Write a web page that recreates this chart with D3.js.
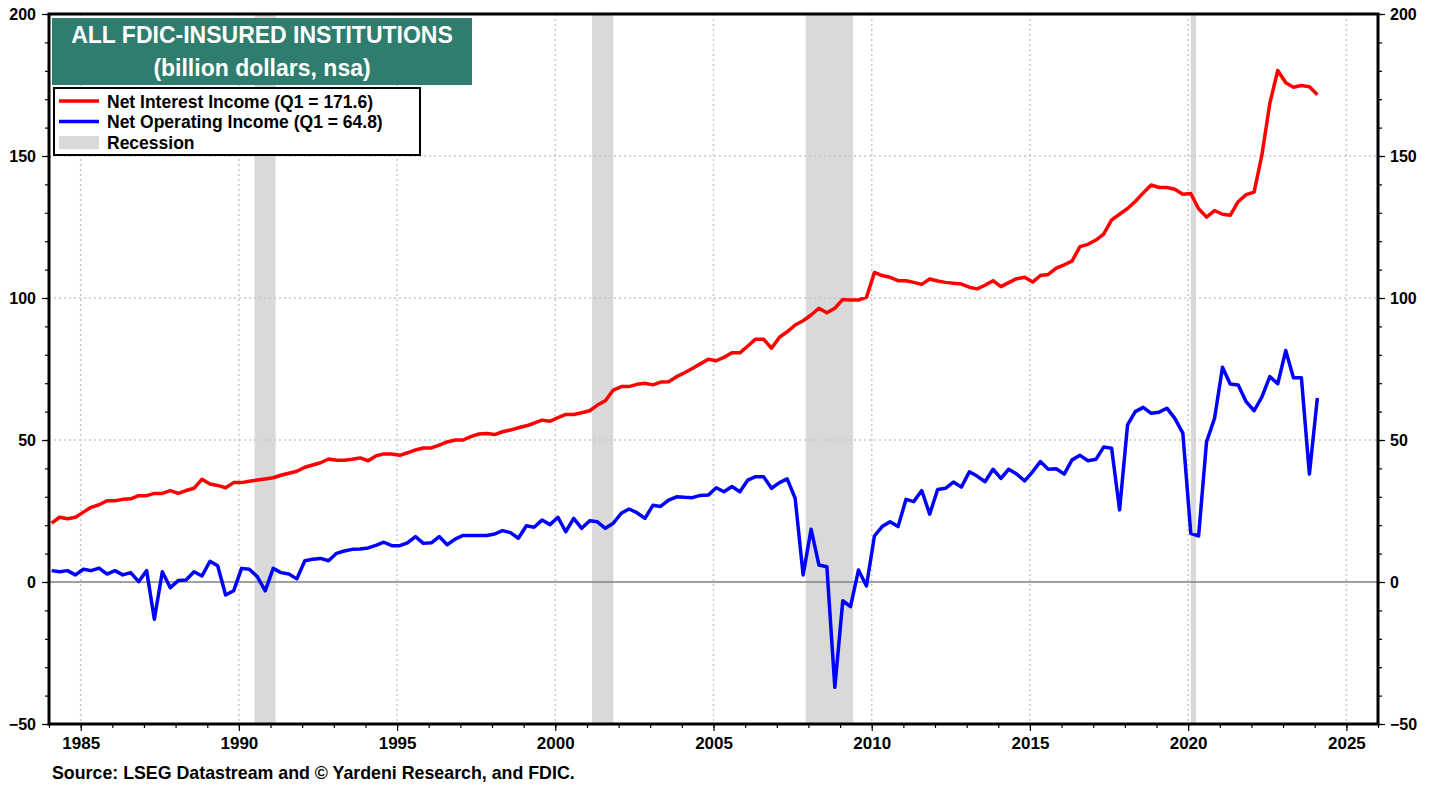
<!DOCTYPE html>
<html lang="en">
<head>
<meta charset="UTF-8">
<title>All FDIC-Insured Institutions</title>
<script src="https://cdnjs.cloudflare.com/ajax/libs/d3/7.8.5/d3.min.js"></script>
<style>
  body { margin: 0; background: #fff; }
  svg { display: block; font-family: "Liberation Sans", Arial, sans-serif; font-weight: bold; }
  .axis path { display: none; }
  .axis line { stroke: #000; stroke-width: 1.2; }
  .axis text { font-size: 16px; font-weight: bold; fill: #000; }
  .xaxis text { font-size: 17px; }
</style>
</head>
<body>
<svg id="chart" width="1438" height="790"></svg>
<script>
// quarterly data, first value = 1984 Q1, last = 2024 Q1 (billion dollars)
const startYear = 1984;
const netInterestIncome = [
  20.7, 22.8, 22.3, 22.8, 24.6, 26.3, 27.2, 28.6, 28.6, 29.1, 29.3, 30.4, 30.4, 31.2, 31.2, 32.2,
  31.2, 32.2, 33.0, 36.2, 34.5, 34.0, 33.2, 35.0, 35.0, 35.5, 35.9, 36.3, 36.7, 37.6, 38.3, 39.0,
  40.4, 41.2, 42.0, 43.3, 42.9, 42.9, 43.2, 43.7, 42.7, 44.4, 45.1, 45.1, 44.6, 45.5, 46.5, 47.2,
  47.2, 48.2, 49.3, 50.0, 50.0, 51.2, 52.1, 52.3, 51.9, 52.9, 53.5, 54.3, 55.0, 55.9, 57.0, 56.6,
  57.9, 59.0, 59.0, 59.6, 60.3, 62.3, 63.8, 67.6, 68.8, 68.8, 69.6, 70.0, 69.4, 70.4, 70.5, 72.3,
  73.7, 75.2, 76.8, 78.4, 77.9, 79.1, 80.7, 80.7, 83.1, 85.5, 85.5, 82.3, 86.2, 88.1, 90.5, 92.0,
  94.0, 96.4, 94.8, 96.4, 99.5, 99.3, 99.3, 100.2, 109.0, 107.9, 107.3, 106.1, 106.1, 105.5, 104.8, 106.7,
  106.0, 105.5, 105.2, 104.9, 103.8, 103.2, 104.5, 106.1, 104.0, 105.4, 106.8, 107.3, 105.6, 107.9, 108.3, 110.5,
  111.7, 113.0, 118.1, 118.9, 120.4, 122.5, 127.5, 129.5, 131.5, 134.0, 137.0, 139.8, 138.9, 138.9, 138.3, 136.5,
  136.8, 131.4, 128.5, 130.8, 129.5, 129.1, 133.9, 136.4, 137.3, 150.2, 168.5, 180.1, 175.8, 174.2, 174.8, 174.4,
  171.6
];
const netOperatingIncome = [
  4.0, 3.6, 4.0, 2.5, 4.5, 4.0, 4.9, 2.8, 4.0, 2.5, 3.3, 0.1, 4.0, -13.1, 3.6, -2.0,
  0.5, 0.7, 3.6, 2.1, 7.3, 5.7, -4.6, -3.1, 4.8, 4.5, 1.9, -3.1, 4.8, 3.3, 2.8, 1.1,
  7.5, 8.0, 8.3, 7.5, 10.1, 10.9, 11.5, 11.6, 12.0, 12.9, 14.0, 12.8, 12.8, 13.8, 16.0, 13.6,
  13.8, 16.0, 13.1, 15.1, 16.4, 16.4, 16.4, 16.4, 16.9, 18.1, 17.4, 15.4, 19.8, 19.3, 21.8, 20.2,
  22.8, 17.7, 22.4, 18.9, 21.6, 21.2, 18.9, 20.7, 24.2, 25.7, 24.4, 22.4, 27.0, 26.6, 28.8, 30.0,
  29.8, 29.7, 30.5, 30.6, 33.2, 31.8, 33.6, 31.8, 35.9, 37.1, 37.1, 33.0, 35.0, 36.3, 29.5, 2.5,
  18.6, 6.0, 5.4, -37.1, -6.6, -8.7, 4.2, -1.4, 16.2, 19.5, 21.2, 19.5, 29.1, 28.3, 32.2, 23.9,
  32.6, 33.0, 35.2, 33.4, 38.8, 37.3, 35.3, 39.7, 36.5, 39.7, 38.0, 35.6, 38.8, 42.4, 39.7, 39.9,
  38.0, 43.0, 44.6, 42.7, 43.2, 47.5, 47.1, 25.4, 55.3, 60.0, 61.5, 59.4, 59.8, 61.2, 57.6, 52.4,
  17.1, 16.2, 49.4, 57.6, 75.6, 69.7, 69.4, 63.5, 60.3, 65.1, 72.3, 69.8, 81.5, 71.9, 71.9, 38.0,
  64.8
];
const recessions = [
  ["1990-07-01", "1991-03-01"],
  ["2001-03-01", "2001-11-01"],
  ["2007-12-01", "2009-06-01"],
  ["2020-02-01", "2020-04-01"]
];
const yTicks = [-50, 0, 50, 100, 150, 200];
const xTickYears = [1985, 1990, 1995, 2000, 2005, 2010, 2015, 2020, 2025];
const titleLines = ["ALL FDIC-INSURED INSTITUTIONS", "(billion dollars, nsa)"];
const legendItems = [
  { label: "Net Interest Income (Q1 = 171.6)", type: "line", color: "#ff0000" },
  { label: "Net Operating Income (Q1 = 64.8)", type: "line", color: "#0000ff" },
  { label: "Recession", type: "box", color: "#d9d9d9" }
];
const sourceText = "Source: LSEG Datastream and \u00A9 Yardeni Research, and FDIC.";

const svg = d3.select("#chart");
const plot = { left: 49, right: 1378, top: 14, bottom: 724 };

const quarterDate = (i) => new Date(startYear + Math.floor(i / 4), (i % 4) * 3 + 1, 1);

const x = d3.scaleTime()
  .domain([new Date(1984, 0, 1), new Date(2026, 0, 1)])
  .range([plot.left, plot.right]);
const y = d3.scaleLinear().domain([-50, 200]).range([plot.bottom, plot.top]);

// recession bars
svg.append("g").selectAll("rect")
  .data(recessions)
  .enter().append("rect")
  .attr("x", (d) => x(new Date(d[0])))
  .attr("width", (d) => x(new Date(d[1])) - x(new Date(d[0])))
  .attr("y", plot.top)
  .attr("height", plot.bottom - plot.top)
  .attr("fill", "#d9d9d9");

// grid
const grid = svg.append("g").attr("stroke", "#c8c8c8").attr("stroke-width", 1.5).attr("stroke-dasharray", "2,3");
grid.selectAll(".vg").data(xTickYears).enter().append("line")
  .attr("x1", (d) => x(new Date(d, 0, 1))).attr("x2", (d) => x(new Date(d, 0, 1)))
  .attr("y1", plot.top).attr("y2", plot.bottom);
grid.selectAll(".hg").data(yTicks.filter((d) => d !== 0 && d > -50 && d < 200)).enter().append("line")
  .attr("x1", plot.left).attr("x2", plot.right)
  .attr("y1", (d) => y(d)).attr("y2", (d) => y(d));

// zero line
svg.append("line")
  .attr("x1", plot.left).attr("x2", plot.right)
  .attr("y1", y(0)).attr("y2", y(0))
  .attr("stroke", "#808080").attr("stroke-width", 1.5);

// series
const line = d3.line().x((d, i) => x(quarterDate(i))).y((d) => y(d));
svg.append("path").datum(netInterestIncome)
  .attr("d", line).attr("fill", "none")
  .attr("stroke", "#ff0000").attr("stroke-width", 3.5).attr("stroke-linejoin", "round");
svg.append("path").datum(netOperatingIncome)
  .attr("d", line).attr("fill", "none")
  .attr("stroke", "#0000ff").attr("stroke-width", 3.5).attr("stroke-linejoin", "round");

// axes: major + minor ticks
const minorY = d3.range(-50, 201, 10);
svg.append("g").attr("class", "axis").attr("transform", `translate(${plot.left},0)`)
  .call(d3.axisLeft(y).tickValues(minorY).tickSize(4).tickFormat(""));
svg.append("g").attr("class", "axis").attr("transform", `translate(${plot.left},0)`)
  .call(d3.axisLeft(y).tickValues(yTicks).tickSize(7).tickPadding(6));
svg.append("g").attr("class", "axis").attr("transform", `translate(${plot.right},0)`)
  .call(d3.axisRight(y).tickValues(minorY).tickSize(4).tickFormat(""));
svg.append("g").attr("class", "axis").attr("transform", `translate(${plot.right},0)`)
  .call(d3.axisRight(y).tickValues(yTicks).tickSize(7).tickPadding(5));

const minorX = d3.range(1984, 2027).map((yr) => new Date(yr, 0, 1));
svg.append("g").attr("class", "axis").attr("transform", `translate(0,${plot.bottom})`)
  .call(d3.axisBottom(x).tickValues(minorX).tickSize(4).tickFormat(""));
svg.append("g").attr("class", "axis xaxis").attr("transform", `translate(0,${plot.bottom})`)
  .call(d3.axisBottom(x).tickValues(xTickYears.map((yr) => new Date(yr, 0, 1)))
    .tickSize(7).tickPadding(6).tickFormat(d3.timeFormat("%Y")));

// frame
svg.append("rect")
  .attr("x", plot.left).attr("y", plot.top)
  .attr("width", plot.right - plot.left).attr("height", plot.bottom - plot.top)
  .attr("fill", "none").attr("stroke", "#000").attr("stroke-width", 3);

// title box
const tb = svg.append("g");
tb.append("rect").attr("x", 52).attr("y", 18).attr("width", 420).attr("height", 67).attr("fill", "#2e7d6e");
tb.selectAll("text").data(titleLines).enter().append("text")
  .attr("x", 262).attr("y", (d, i) => 43 + i * 33)
  .attr("text-anchor", "middle").attr("fill", "#fff")
  .attr("font-size", 23).attr("font-weight", "bold")
  .text((d) => d);

// legend
const lg = svg.append("g");
lg.append("rect").attr("x", 54).attr("y", 88).attr("width", 366).attr("height", 67)
  .attr("fill", "#fff").attr("stroke", "#000").attr("stroke-width", 2);
const rows = lg.selectAll(".row").data(legendItems).enter().append("g")
  .attr("transform", (d, i) => `translate(0,${101 + i * 20.5})`);
rows.filter((d) => d.type === "line").append("line")
  .attr("x1", 59).attr("x2", 99).attr("y1", 0).attr("y2", 0)
  .attr("stroke", (d) => d.color).attr("stroke-width", 3.5);
rows.filter((d) => d.type === "box").append("rect")
  .attr("x", 59).attr("y", -6).attr("width", 40).attr("height", 13)
  .attr("fill", (d) => d.color);
rows.append("text").attr("x", 107).attr("y", 6.5)
  .attr("font-size", 17.5).attr("font-weight", "bold").text((d) => d.label);

// source
svg.append("text").attr("x", 52).attr("y", 779)
  .attr("font-size", 17.8).attr("font-weight", "bold")
  .text(sourceText);
</script>
</body>
</html>
